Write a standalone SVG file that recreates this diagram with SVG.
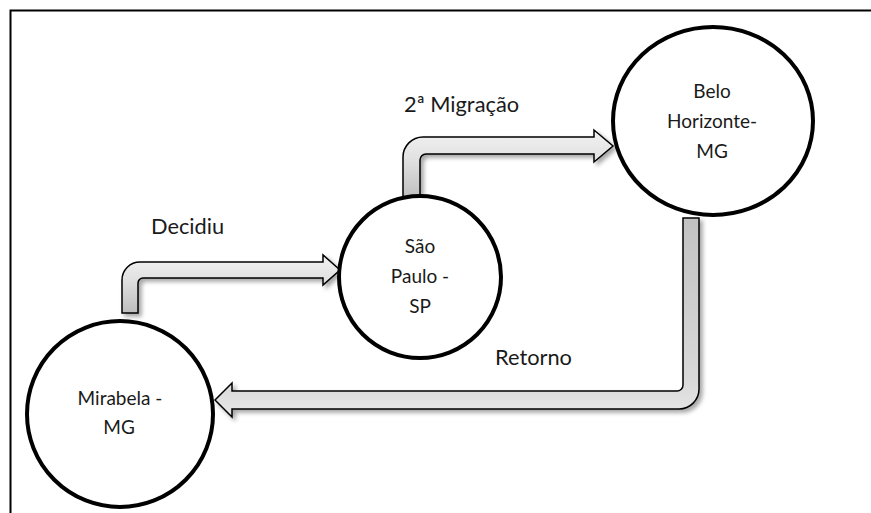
<svg xmlns="http://www.w3.org/2000/svg" width="871" height="513" viewBox="0 0 871 513">
<defs>
<style>
.frame{fill:none;stroke:#000;stroke-width:2}
.node{fill:#fff;stroke:#000;stroke-width:4}
.arrow{stroke:#000;stroke-width:1.5;stroke-linejoin:miter;filter:url(#sh)}
.t{font-family:Lato,"Liberation Sans",sans-serif;fill:#1a1a1a;text-anchor:middle}
.nt{font-size:19px}
.lb{font-size:21.8px;text-anchor:start}
</style>
<linearGradient id="gUp" x1="0" y1="0" x2="0" y2="1">
<stop offset="0" stop-color="#f2f2f2"/>
<stop offset="0.4" stop-color="#e2e2e2"/>
<stop offset="1" stop-color="#bdbdbd"/>
</linearGradient>
<linearGradient id="gDown" x1="0" y1="0" x2="0" y2="1">
<stop offset="0" stop-color="#c2c2c2"/>
<stop offset="0.8" stop-color="#d8d8d8"/>
<stop offset="1" stop-color="#e8e8e8"/>
</linearGradient>
<filter id="sh" x="-10%" y="-10%" width="130%" height="130%">
<feDropShadow dx="3" dy="3" stdDeviation="2" flood-color="#000" flood-opacity="0.35"/>
</filter>
</defs>
<rect width="871" height="513" fill="#fff"/>
<polyline class="frame" points="10.5,513 10.5,10.5 871,10.5"/>
<g id="connectors">
<path id="arrow-decidiu" class="arrow" fill="url(#gUp)" d="M122,313 L122,280 A18,18 0 0 1 140,262 L323,262 L323,255 L340,270 L323,285 L323,278 L143,278 A5,5 0 0 0 138,283 L138,313 Z"/>
<path id="arrow-migracao" class="arrow" fill="url(#gUp)" d="M403,200 L403,157 A20,20 0 0 1 423,137 L594,137 L594,130 L613,146 L594,162 L594,154 L426,154 A6,6 0 0 0 420,160 L420,200 Z"/>
<path id="arrow-retorno" class="arrow" fill="url(#gDown)" d="M699,218 L699,389 A20,20 0 0 1 679,409 L232,409 L232,417 L215,400 L232,383 L232,391 L677,391 A6,6 0 0 0 683,385 L683,218 Z"/>
<text class="t lb" x="151" y="234">Decidiu</text>
<text class="t lb" x="404" y="112">2ª Migração</text>
<text class="t lb" x="495" y="365">Retorno</text>
</g>
<g id="mirabela">
<circle class="node" cx="120" cy="414" r="93"/>
<text class="t nt" x="120" y="405">Mirabela -</text>
<text class="t nt" x="119" y="434">MG</text>
</g>
<g id="sao-paulo">
<circle class="node" cx="420" cy="277" r="81"/>
<text class="t nt" x="420" y="253">São</text>
<text class="t nt" x="420" y="283">Paulo -</text>
<text class="t nt" x="420" y="313">SP</text>
</g>
<g id="belo-horizonte">
<ellipse class="node" cx="713" cy="121" rx="100" ry="94"/>
<text class="t nt" x="712" y="98">Belo</text>
<text class="t nt" x="712" y="128">Horizonte-</text>
<text class="t nt" x="712" y="158">MG</text>
</g>
</svg>
